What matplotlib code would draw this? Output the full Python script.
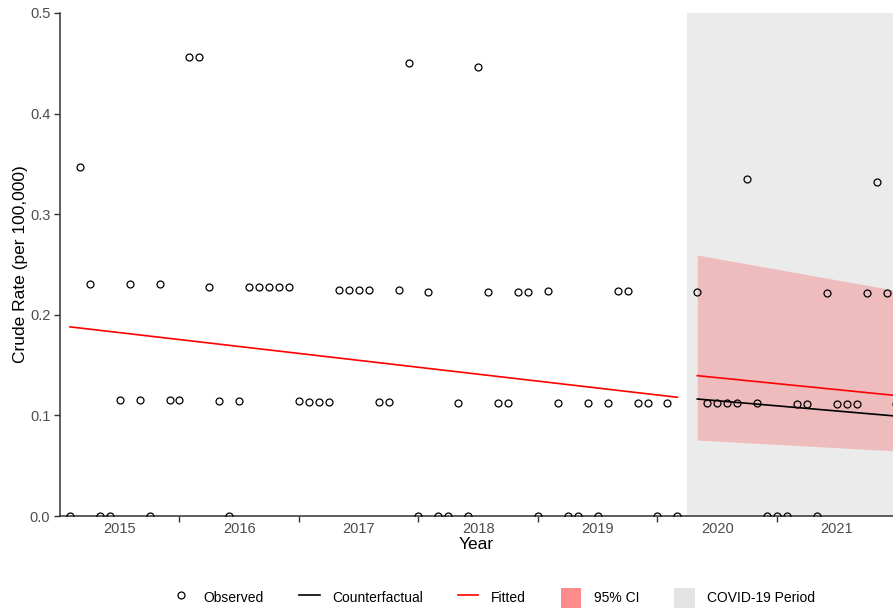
import numpy as np
import pandas as pd
import matplotlib.pyplot as plt
from matplotlib.lines import Line2D
from matplotlib.patches import Patch

plt.rcParams['font.family'] = ['Liberation Sans', 'DejaVu Sans']

# Monthly observed crude rates, Aug 2014 onwards (Oct 2019 missing)
START = '2014-08'
obs_rate = [0, 0.347, 0.231, 0, 0, 0.115, 0.231, 0.115, 0, 0.231, 0.115, 0.115,
            0.456, 0.456, 0.228, 0.114, 0, 0.114, 0.228, 0.228, 0.228, 0.228, 0.228, 0.114,
            0.113, 0.113, 0.113, 0.225, 0.225, 0.225, 0.225, 0.113, 0.113, 0.225, 0.450, 0,
            0.223, 0, 0, 0.112, 0, 0.446, 0.223, 0.112, 0.112, 0.223, 0.223, 0,
            0.224, 0.112, 0, 0, 0.112, 0, 0.112, 0.224, 0.224, 0.112, 0.112, 0,
            0.112, 0, np.nan, 0.223, 0.112, 0.112, 0.112, 0.112, 0.335, 0.112, 0, 0,
            0, 0.111, 0.111, 0, 0.222, 0.111, 0.111, 0.111, 0.222, 0.332, 0.222, 0.111]

# Model lines (end points)
pre_months = ['2014-08', '2019-09']
fitted_pre = [0.188, 0.118]
post_months = ['2019-11', '2021-07']
fitted_post = [0.1395, 0.1197]
counterfactual = [0.1163, 0.0993]
ci_upper = [0.2594, 0.2241]
ci_lower = [0.0755, 0.0647]
covid_start = '2019-10'

years = [2015, 2016, 2017, 2018, 2019, 2020, 2021]


def dec_year(p):
    p = pd.Period(p, freq='M')
    return p.year + (p.month - 1) / 12


months = pd.period_range(START, periods=len(obs_rate), freq='M')
t_obs = np.array([m.year + (m.month - 1) / 12 for m in months])
t_pre = [dec_year(p) for p in pre_months]
t_post = [dec_year(p) for p in post_months]

fig = plt.figure(figsize=(8.93, 6.12), dpi=100)
ax = fig.add_axes([60 / 893, 96 / 612, 833 / 893, 503 / 612])

ax.axvspan(dec_year(covid_start), 2022, color='#ebebeb', lw=0, zorder=0)
ax.fill_between(t_post, ci_lower, ci_upper, color='red', alpha=0.2, lw=0, zorder=1)
ax.plot(t_pre, fitted_pre, color='red', lw=1.2, zorder=2)
ax.plot(t_post, fitted_post, color='red', lw=1.2, zorder=2)
ax.plot(t_post, counterfactual, color='black', lw=1.2, zorder=2)
ax.plot(t_obs, obs_rate, ls='none', marker='o', mfc='none', mec='black',
        ms=5, mew=0.9, zorder=3)

ax.set_xlim(2014.5, 2021.471)
ax.set_ylim(0, 0.5)
ax.set_yticks(np.arange(0, 0.51, 0.1))
ax.set_yticklabels([f'{v:.1f}' for v in np.arange(0, 0.51, 0.1)])

# tick marks at mid-year, labels at year start
ax.set_xticks([y + 0.5 for y in years[:-1]])
ax.set_xticklabels([])
ax.set_xticks(years, minor=True)
ax.set_xticklabels([str(y) for y in years], minor=True)
ax.tick_params(axis='x', which='minor', length=0, pad=4)
ax.tick_params(axis='both', which='major', length=4, width=1, color='#333333')
ax.tick_params(axis='y', which='major', pad=3)
ax.tick_params(axis='both', which='both', labelsize=10.5, labelcolor='#4d4d4d')

for s in ['top', 'right']:
    ax.spines[s].set_visible(False)
for s in ['left', 'bottom']:
    ax.spines[s].set_linewidth(1.1)
    ax.spines[s].set_color('#333333')

ax.set_xlabel('Year', fontsize=12.5, labelpad=1)
ax.set_ylabel('Crude Rate (per 100,000)', fontsize=12.5, labelpad=1)

handles = [Line2D([], [], ls='none', marker='o', mfc='none', mec='black', ms=5, mew=0.9),
           Line2D([], [], color='black', lw=1.2),
           Line2D([], [], color='red', lw=1.2),
           Patch(facecolor='#ff8c8c', lw=0),
           Patch(facecolor='#e3e3e3', lw=0)]
labels = ['Observed', 'Counterfactual', 'Fitted', '95% CI', 'COVID-19 Period']
fig.legend(handles, labels, loc='center', bbox_to_anchor=(0.552, 0.023), ncol=5,
           frameon=False, fontsize=10, handlelength=1.5, handleheight=1.8,
           handletextpad=0.9, columnspacing=2.5)

plt.savefig('out.png', dpi=100)
